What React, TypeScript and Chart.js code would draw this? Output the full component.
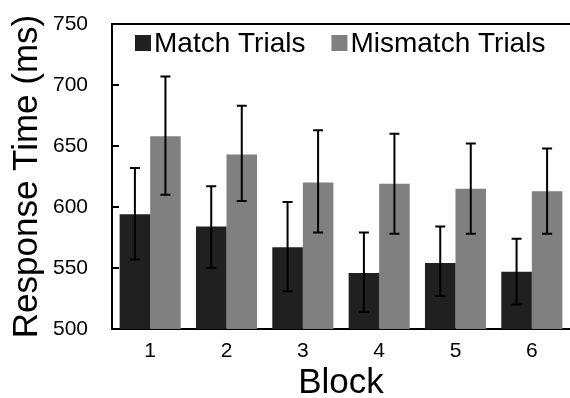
import React, { useEffect, useRef } from 'react';
import { Chart, registerables } from 'chart.js';

Chart.register(...registerables);

const blocks = ['1', '2', '3', '4', '5', '6'];
const matchMeans = [594, 584, 567, 546, 554, 547];
const matchLow = [557, 550, 531, 514, 527, 520];
const matchHigh = [632, 617, 604, 579, 584, 574];
const mismatchMeans = [658, 643, 620, 619, 615, 613];
const mismatchLow = [610, 605, 579, 578, 578, 578];
const mismatchHigh = [707, 683, 663, 660, 652, 648];
const seriesNames = ['Match Trials', 'Mismatch Trials'];
const seriesColors = ['#202020', '#808080'];
const yMin = 500;
const yMax = 750;
const yStep = 50;

const FONT = "'Liberation Sans', Arial, sans-serif";

const errorBarPlugin = {
  id: 'errorBars',
  afterDatasetsDraw(chart: any) {
    const ctx = chart.ctx;
    const y = chart.scales.y;
    chart.data.datasets.forEach((ds: any, i: number) => {
      const meta = chart.getDatasetMeta(i);
      meta.data.forEach((bar: any, j: number) => {
        const x = bar.x;
        const yl = y.getPixelForValue(ds.errLow[j]);
        const yh = y.getPixelForValue(ds.errHigh[j]);
        ctx.save();
        ctx.strokeStyle = '#000';
        ctx.lineWidth = 2;
        ctx.beginPath();
        ctx.moveTo(x, yl);
        ctx.lineTo(x, yh);
        ctx.moveTo(x - 5, yl);
        ctx.lineTo(x + 5, yl);
        ctx.moveTo(x - 5, yh);
        ctx.lineTo(x + 5, yh);
        ctx.stroke();
        ctx.restore();
      });
    });
  },
};

const framePlugin = {
  id: 'frame',
  afterDraw(chart: any) {
    const ctx = chart.ctx;
    const a = chart.chartArea;
    const y = chart.scales.y;
    ctx.save();
    ctx.strokeStyle = '#000';
    ctx.lineWidth = 2;
    ctx.beginPath();
    ctx.moveTo(a.left - 1, a.top);
    ctx.lineTo(a.right, a.top);
    y.ticks.forEach((t: any) => {
      const py = y.getPixelForValue(t.value);
      ctx.moveTo(a.left, py);
      ctx.lineTo(a.left + 7, py);
    });
    ctx.stroke();
    // legend
    ctx.font = `28px ${FONT}`;
    ctx.textBaseline = 'alphabetic';
    ctx.textAlign = 'left';
    let x = a.left + 23;
    const boxTop = a.top + 11;
    chart.data.datasets.forEach((ds: any, i: number) => {
      ctx.fillStyle = ds.backgroundColor;
      ctx.fillRect(x, boxTop, 16, 16);
      ctx.fillStyle = '#000';
      ctx.fillText(ds.label, x + 19, boxTop + 17);
      x += 19 + ctx.measureText(ds.label).width + 26;
    });
    ctx.restore();
  },
};

export default function App() {
  const ref = useRef<HTMLCanvasElement>(null);
  useEffect(() => {
    document.body.style.margin = '0';
    const chart = new Chart(ref.current!, {
      type: 'bar',
      data: {
        labels: blocks,
        datasets: [
          {
            label: seriesNames[0],
            data: matchMeans,
            backgroundColor: seriesColors[0],
            errLow: matchLow,
            errHigh: matchHigh,
          } as any,
          {
            label: seriesNames[1],
            data: mismatchMeans,
            backgroundColor: seriesColors[1],
            errLow: mismatchLow,
            errHigh: mismatchHigh,
          } as any,
        ],
      },
      options: {
        responsive: false,
        animation: false,
        layout: { padding: { top: 24, right: 0, left: 0, bottom: 0 } },
        datasets: { bar: { categoryPercentage: 0.8, barPercentage: 1.0 } },
        plugins: {
          legend: { display: false },
          tooltip: { enabled: false },
        },
        scales: {
          x: {
            grid: { display: false, drawTicks: false },
            border: { display: true, color: '#000', width: 2 },
            ticks: { color: '#000', font: { family: FONT, size: 21 }, padding: 10 },
            title: {
              display: true,
              text: 'Block',
              color: '#000',
              font: { family: FONT, size: 35, lineHeight: 0.86 },
              padding: { top: 0, bottom: 0 },
            },
            afterFit: (s: any) => {
              s.height = 69;
            },
          },
          y: {
            min: yMin,
            max: yMax,
            ticks: {
              stepSize: yStep,
              color: '#000',
              font: { family: FONT, size: 21 },
              padding: 24,
            },
            grid: { display: false, drawTicks: false },
            border: { display: true, color: '#000', width: 2 },
            title: {
              display: true,
              text: 'Response Time (ms)',
              color: '#000',
              font: { family: FONT, size: 35 },
              padding: { top: 6, bottom: 0 },
            },
            afterFit: (s: any) => {
              s.width = 112;
              s.paddingTop = 0;
              s.paddingBottom = 0;
            },
          },
        },
      },
      plugins: [errorBarPlugin, framePlugin],
    });
    return () => chart.destroy();
  }, []);
  return (
    <div style={{ width: 570, height: 398, overflow: 'hidden' }}>
      <canvas ref={ref} width={570} height={398} style={{ display: 'block' }} />
    </div>
  );
}
